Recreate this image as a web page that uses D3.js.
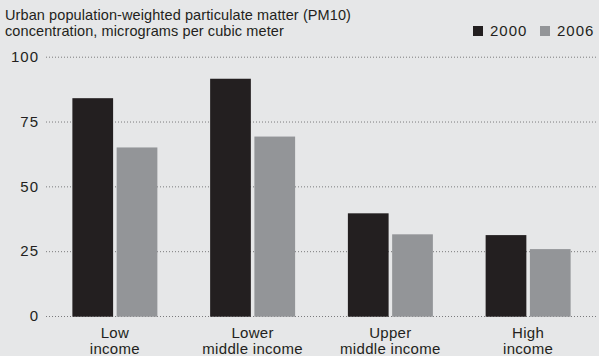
<!DOCTYPE html>
<html>
<head>
<meta charset="utf-8">
<script src="https://cdn.jsdelivr.net/npm/d3@7"></script>
<style>
  html, body { margin: 0; padding: 0; background: #e6e7e8; }
  svg { display: block; }
</style>
</head>
<body>
<div id="chart"></div>
<script>
const categories = [["Low", "income"], ["Lower", "middle income"], ["Upper", "middle income"], ["High", "income"]];
const seriesNames = ["2000", "2006"];
const values2000 = [84, 91.5, 39.6, 31.2];
const values2006 = [65, 69.2, 31.5, 25.8];
const yTicks = [0, 25, 50, 75, 100];
const titleLines = ["Urban population-weighted particulate matter (PM10)", "concentration, micrograms per cubic meter"];

const width = 599, height = 356;
const colors = { "2000": "#231f20", "2006": "#939598" };
const font = "'Liberation Sans', Arial, sans-serif";
const textColor = "#231f20";

const data = categories.map((c, i) => ({ key: i, label: c, values: [
    { series: "2000", value: values2000[i] },
    { series: "2006", value: values2006[i] }
]}));

const svg = d3.select("#chart").append("svg")
    .attr("width", width)
    .attr("height", height);

svg.append("rect").attr("width", width).attr("height", height).attr("fill", "#e6e7e8");

const x0 = d3.scaleBand()
    .domain(data.map(d => d.key))
    .range([46, 597])
    .paddingInner(0.383)
    .paddingOuter(0.1915);

const x1 = d3.scaleBand()
    .domain(seriesNames)
    .range([0, x0.bandwidth()])
    .paddingInner(0.08);

const y = d3.scaleLinear().domain([0, 100]).range([316, 56.7]);

// gridlines + tick labels
svg.append("g")
    .attr("transform", "translate(46,0)")
    .call(d3.axisLeft(y).tickValues(yTicks).tickSize(-(596 - 46)).tickPadding(8))
    .call(g => g.select(".domain").remove())
    .call(g => g.selectAll(".tick line")
        .attr("stroke", "#7a7a7c")
        .attr("stroke-width", 1)
        .attr("stroke-dasharray", "1,2"))
    .call(g => g.selectAll(".tick text")
        .attr("fill", textColor)
        .attr("dx", 1)
        .style("font-family", font)
        .style("font-size", "15px")
        .style("letter-spacing", "1px"));

// bars
const groups = svg.append("g").selectAll("g")
    .data(data)
    .join("g")
    .attr("transform", d => `translate(${x0(d.key)},0)`);

groups.selectAll("rect")
    .data(d => d.values)
    .join("rect")
    .attr("x", d => x1(d.series))
    .attr("y", d => y(d.value))
    .attr("width", x1.bandwidth())
    .attr("height", d => y(0) - y(d.value) + 0.7)
    .attr("fill", d => colors[d.series]);

// category labels
const catLabels = svg.append("g").selectAll("text")
    .data(data)
    .join("text")
    .attr("x", d => x0(d.key) + x0.bandwidth() / 2)
    .attr("y", 338)
    .attr("text-anchor", "middle")
    .attr("fill", textColor)
    .style("font-family", font)
    .style("font-size", "15px")
    .style("letter-spacing", "0.3px");

catLabels.selectAll("tspan")
    .data(d => d.label)
    .join("tspan")
    .attr("x", function () { return d3.select(this.parentNode).attr("x"); })
    .attr("dy", (d, i) => i === 0 ? 0 : 15.5)
    .text(d => d);

// title
svg.append("g").selectAll("text")
    .data(titleLines)
    .join("text")
    .attr("x", 5)
    .attr("y", (d, i) => 20 + i * 16)
    .attr("fill", textColor)
    .style("font-family", font)
    .style("font-size", "14.5px")
    .style("letter-spacing", "0.1px")
    .text(d => d);

// legend
const legendX = [473, 540];
const legend = svg.append("g").selectAll("g")
    .data(seriesNames)
    .join("g")
    .attr("transform", (d, i) => `translate(${legendX[i]},26)`);

legend.append("rect")
    .attr("width", 10)
    .attr("height", 10)
    .attr("fill", d => colors[d]);

legend.append("text")
    .attr("x", 17)
    .attr("y", 10)
    .attr("fill", textColor)
    .style("font-family", font)
    .style("font-size", "15px")
    .style("letter-spacing", "1px")
    .text(d => d);
</script>
</body>
</html>
